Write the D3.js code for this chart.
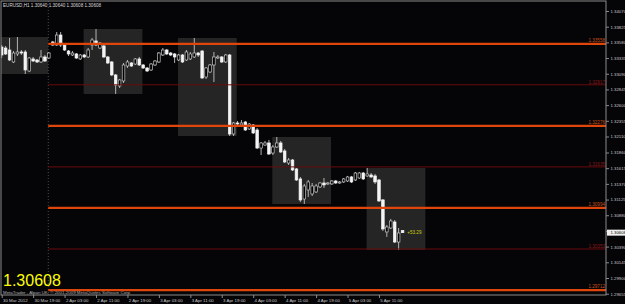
<!DOCTYPE html>
<html>
<head>
<meta charset="utf-8">
<script src="https://cdn.jsdelivr.net/npm/d3@7"></script>
<style>
  html, body { margin: 0; padding: 0; background: #050407; }
  svg { display: block; }
  text { font-family: "Liberation Sans", Arial, sans-serif; }
</style>
</head>
<body>
<svg id="chart"></svg>
<script>
// EURUSD H1, bar 0 = 30 Mar 2012 11:00
var headerText = 'EURUSD,H1  1.30640 1.30640 1.30608 1.30608';
var copyrightText = 'MetaTrader - Alpari UK, \u00a9 2001-2009 MetaQuotes Software Corp.';

var opens = [1.33508, 1.33492, 1.33461, 1.33274, 1.33399, 1.33430, 1.33430, 1.33133, 1.33321, 1.33305,
  1.33274, 1.33352, 1.33336, 1.33586, 1.33539, 1.33695, 1.33539, 1.33445, 1.33383, 1.33399,
  1.33321, 1.33383, 1.33352, 1.33539, 1.33602, 1.33492, 1.33524, 1.33352, 1.33274, 1.33071,
  1.32899, 1.32977, 1.33211, 1.33258, 1.33242, 1.33321, 1.33227, 1.33180, 1.33149, 1.33227,
  1.33274, 1.33383, 1.33461, 1.33414, 1.33399, 1.33305, 1.33383, 1.33305, 1.33321, 1.33352,
  1.33414, 1.33445, 1.33039, 1.33117, 1.33227, 1.33336, 1.33352, 1.33274, 1.33383, 1.32149,
  1.32321, 1.32290, 1.32336, 1.32227, 1.32290, 1.32212, 1.31930, 1.31977, 1.32009, 1.31852,
  1.31946, 1.32009, 1.31884, 1.31696, 1.31743, 1.31603, 1.31447, 1.31134, 1.31275, 1.31212,
  1.31244, 1.31322, 1.31384, 1.31369, 1.31369, 1.31415, 1.31384, 1.31400, 1.31415, 1.31478,
  1.31431, 1.31462, 1.31540, 1.31494, 1.31509, 1.31494, 1.31431, 1.31119, 1.30619, 1.30681,
  1.30775, 1.30462, 1.30640];
var highs = [1.33539, 1.33524, 1.33649, 1.33445, 1.33664, 1.33461, 1.33461, 1.33352, 1.33352, 1.33321,
  1.33461, 1.33383, 1.33430, 1.33602, 1.33742, 1.33742, 1.33555, 1.33461, 1.33445, 1.33414,
  1.33399, 1.33399, 1.33492, 1.33649, 1.33789, 1.33586, 1.33539, 1.33367, 1.33289, 1.33086,
  1.33008, 1.33258, 1.33305, 1.33274, 1.33336, 1.33352, 1.33242, 1.33196, 1.33258, 1.33305,
  1.33430, 1.33492, 1.33477, 1.33430, 1.33414, 1.33399, 1.33399, 1.33461, 1.33430, 1.33649,
  1.33430, 1.33461, 1.33196, 1.33242, 1.33430, 1.33383, 1.33367, 1.33399, 1.33399, 1.32336,
  1.32352, 1.32368, 1.32352, 1.32321, 1.32305, 1.32243, 1.32024, 1.32040, 1.32056, 1.31977,
  1.32102, 1.32040, 1.31915, 1.31774, 1.31759, 1.31618, 1.31478, 1.31369, 1.31431, 1.31384,
  1.31369, 1.31400, 1.31462, 1.31400, 1.31431, 1.31431, 1.31415, 1.31462, 1.31494, 1.31494,
  1.31556, 1.31556, 1.31556, 1.31618, 1.31540, 1.31525, 1.31447, 1.31134, 1.30728, 1.30822,
  1.30806, 1.30681, 1.30640];
var lows = [1.33336, 1.33383, 1.33289, 1.33258, 1.33367, 1.33383, 1.33086, 1.33117, 1.33274, 1.33258,
  1.33258, 1.33274, 1.33321, 1.33524, 1.33524, 1.33508, 1.33445, 1.33367, 1.33367, 1.33321,
  1.33305, 1.33336, 1.33336, 1.33461, 1.33524, 1.33477, 1.33336, 1.33242, 1.33055, 1.32774,
  1.32868, 1.32946, 1.33180, 1.33196, 1.33227, 1.33211, 1.33164, 1.33117, 1.33133, 1.33211,
  1.33258, 1.33367, 1.33383, 1.33367, 1.33258, 1.33289, 1.33258, 1.33289, 1.33305, 1.33336,
  1.33352, 1.33008, 1.33008, 1.33102, 1.32961, 1.33321, 1.33258, 1.33258, 1.32118, 1.32118,
  1.32274, 1.32258, 1.32196, 1.32212, 1.32149, 1.31915, 1.31821, 1.31962, 1.31821, 1.31821,
  1.31930, 1.31852, 1.31696, 1.31665, 1.31571, 1.31415, 1.31087, 1.31056, 1.31166, 1.31181,
  1.31228, 1.31306, 1.31306, 1.31353, 1.31353, 1.31369, 1.31369, 1.31384, 1.31400, 1.31384,
  1.31415, 1.31447, 1.31431, 1.31478, 1.31462, 1.31369, 1.31087, 1.30634, 1.30541, 1.30666,
  1.30447, 1.30338, 1.30608];
var closes = [1.33383, 1.33399, 1.33305, 1.33414, 1.33430, 1.33414, 1.33149, 1.33336, 1.33289, 1.33274,
  1.33352, 1.33289, 1.33414, 1.33539, 1.33695, 1.33539, 1.33461, 1.33399, 1.33414, 1.33336,
  1.33383, 1.33352, 1.33461, 1.33617, 1.33539, 1.33570, 1.33352, 1.33258, 1.33071, 1.32914,
  1.32993, 1.33227, 1.33274, 1.33211, 1.33321, 1.33227, 1.33180, 1.33133, 1.33242, 1.33289,
  1.33414, 1.33461, 1.33399, 1.33383, 1.33352, 1.33383, 1.33274, 1.33430, 1.33399, 1.33414,
  1.33383, 1.33024, 1.33180, 1.33227, 1.33352, 1.33352, 1.33274, 1.33383, 1.32149, 1.32321,
  1.32305, 1.32321, 1.32212, 1.32305, 1.32165, 1.31930, 1.32009, 1.32009, 1.31837, 1.31946,
  1.32009, 1.31868, 1.31712, 1.31743, 1.31587, 1.31431, 1.31119, 1.31337, 1.31400, 1.31337,
  1.31337, 1.31384, 1.31353, 1.31384, 1.31415, 1.31384, 1.31400, 1.31447, 1.31478, 1.31400,
  1.31540, 1.31540, 1.31447, 1.31525, 1.31478, 1.31400, 1.31103, 1.30666, 1.30697, 1.30790,
  1.30462, 1.30603, 1.30608];

var currentPrice = 1.30608;
var profitText = '+53.29';

var timeTicks = [0, 8, 16, 24, 32, 40, 48, 56, 64, 72, 80, 88, 96];
var timeLabels = ['30 Mar 2012', '30 Mar 19:00', '2 Apr 03:00', '2 Apr 11:00', '2 Apr 19:00',
  '3 Apr 03:00', '3 Apr 11:00', '3 Apr 19:00', '4 Apr 03:00', '4 Apr 11:00', '4 Apr 19:00',
  '5 Apr 03:00', '5 Apr 11:00'];

var priceTicks = [1.34070, 1.33825, 1.33580, 1.33335, 1.33090, 1.32845, 1.32600, 1.32355, 1.32110,
  1.31860, 1.31615, 1.31370, 1.31125, 1.30880, 1.30635, 1.30390, 1.30145, 1.29900, 1.29655];

// horizontal levels drawn from the Monday open
var strongLevels = [1.33558, 1.32276, 1.30994, 1.29712];
var weakLevels = [1.32917, 1.31635, 1.30353];

// session boxes, first/last bar index (08:00 - 22:00)
var sessions = [[-3, 11], [21, 35], [45, 59], [69, 83], [93, 107]];
var separatorBar = 11.85;

var width = 625, height = 304,
    plot = {left: 1, top: 1, right: 606, bottom: 295};

var svg = d3.select('#chart').attr('width', width).attr('height', height);

svg.append('rect').attr('width', width).attr('height', height).attr('fill', '#050407');

var xScale = d3.scaleLinear().domain([0, 102]).range([1.7, 1.7 + 102 * 3.93]);
var yScale = d3.scaleLinear().domain([1.29650, 1.34070]).range([294, 11]);

var candles = opens.map(function (o, i) {
  return {i: i, open: o, high: highs[i], low: lows[i], close: closes[i]};
});

svg.append('clipPath').attr('id', 'plotClip')
  .append('rect')
  .attr('x', plot.left).attr('y', plot.top)
  .attr('width', plot.right - plot.left).attr('height', plot.bottom - plot.top);

var g = svg.append('g').attr('clip-path', 'url(#plotClip)');

// session boxes from the bars' high / low
g.selectAll('rect.session')
  .data(sessions)
  .enter()
  .append('rect')
  .attr('class', 'session')
  .attr('x', (d) => xScale(d[0] - 0.15))
  .attr('width', (d) => xScale(d[1] + 0.8) - xScale(d[0] - 0.15))
  .attr('y', function (d) {
    var part = candles.filter((c) => c.i >= d[0] && c.i <= d[1]);
    return yScale(d3.max(part, (c) => c.high));
  })
  .attr('height', function (d) {
    var part = candles.filter((c) => c.i >= d[0] && c.i <= d[1]);
    return yScale(d3.min(part, (c) => c.low)) - yScale(d3.max(part, (c) => c.high));
  })
  .attr('fill', '#252525');

// period separator
g.append('line')
  .attr('x1', xScale(separatorBar)).attr('x2', xScale(separatorBar))
  .attr('y1', plot.top).attr('y2', plot.bottom)
  .attr('stroke', '#4a4a4a')
  .attr('stroke-dasharray', '1,2');

// candles
var candle = g.selectAll('g.candle')
  .data(candles)
  .enter()
  .append('g')
  .attr('class', 'candle');

candle.append('line')
  .attr('x1', (d) => xScale(d.i)).attr('x2', (d) => xScale(d.i))
  .attr('y1', (d) => yScale(d.high)).attr('y2', (d) => yScale(d.low))
  .attr('stroke', '#c4c4c4')
  .attr('stroke-width', 0.9);

candle.append('rect')
  .attr('x', (d) => xScale(d.i) - 1.3)
  .attr('width', 2.6)
  .attr('y', (d) => yScale(Math.max(d.open, d.close)))
  .attr('height', (d) => Math.max(0.8, Math.abs(yScale(d.open) - yScale(d.close))))
  .attr('fill', (d) => d.close >= d.open ? '#000' : '#f4f4f4')
  .attr('stroke', (d) => d.close >= d.open ? '#c4c4c4' : '#f4f4f4')
  .attr('stroke-width', 0.7);

// level lines
var x0 = xScale(separatorBar);

g.selectAll('line.weak')
  .data(weakLevels)
  .enter()
  .append('line')
  .attr('class', 'weak')
  .attr('x1', x0).attr('x2', plot.right)
  .attr('y1', (d) => yScale(d)).attr('y2', (d) => yScale(d))
  .attr('stroke', '#6a0c0c')
  .attr('stroke-width', 1);

g.selectAll('line.strong')
  .data(strongLevels)
  .enter()
  .append('line')
  .attr('class', 'strong')
  .attr('x1', x0).attr('x2', plot.right)
  .attr('y1', (d) => yScale(d)).attr('y2', (d) => yScale(d))
  .attr('stroke', '#de460c')
  .attr('stroke-width', 2.2);

g.selectAll('text.weak')
  .data(weakLevels)
  .enter()
  .append('text')
  .attr('x', plot.right - 1)
  .attr('y', (d) => yScale(d) - 1.2)
  .attr('text-anchor', 'end')
  .attr('font-size', 4.6)
  .attr('fill', '#8a1a1a')
  .text((d) => d.toFixed(5));

g.selectAll('text.strong')
  .data(strongLevels)
  .enter()
  .append('text')
  .attr('x', plot.right - 1)
  .attr('y', (d) => yScale(d) - 1.6)
  .attr('text-anchor', 'end')
  .attr('font-size', 4.6)
  .attr('fill', '#c8501c')
  .text((d) => d.toFixed(5));

// profit label next to the last bar
g.append('text')
  .attr('x', xScale(103.2))
  .attr('y', yScale(currentPrice))
  .attr('dy', '0.35em')
  .attr('font-size', 4.6)
  .attr('fill', '#cccc10')
  .text(profitText);

// plot frame
svg.append('rect')
  .attr('x', plot.left).attr('y', plot.top)
  .attr('width', plot.right - plot.left).attr('height', plot.bottom - plot.top)
  .attr('fill', 'none')
  .attr('stroke', '#8c8c8c')
  .attr('stroke-width', 1);

// price axis
var yAxis = d3.axisRight(yScale)
  .tickValues(priceTicks)
  .tickFormat(d3.format('.5f'))
  .tickSize(3)
  .tickPadding(1.5);

var yAxisG = svg.append('g')
  .attr('transform', 'translate(' + plot.right + ',0)')
  .call(yAxis);
yAxisG.select('.domain').remove();
yAxisG.selectAll('line').attr('stroke', '#8c8c8c');
yAxisG.selectAll('text').attr('fill', '#c8c8c8').attr('font-size', 4.3).attr('font-family', null);

// current price marker
svg.append('rect')
  .attr('x', plot.right + 1).attr('y', yScale(currentPrice) - 3)
  .attr('width', width - plot.right - 1).attr('height', 6)
  .attr('fill', '#f0f0f0');
svg.append('text')
  .attr('x', plot.right + 4.5).attr('y', yScale(currentPrice))
  .attr('dy', '0.35em')
  .attr('font-size', 4.3)
  .attr('fill', '#000')
  .text(d3.format('.5f')(currentPrice));

// time axis
var xAxis = d3.axisBottom(xScale)
  .tickValues(timeTicks)
  .tickFormat((d, i) => timeLabels[i])
  .tickSize(3)
  .tickPadding(1);

var xAxisG = svg.append('g')
  .attr('transform', 'translate(0,' + plot.bottom + ')')
  .call(xAxis);
xAxisG.select('.domain').remove();
xAxisG.selectAll('line').attr('stroke', '#8c8c8c');
xAxisG.selectAll('text')
  .attr('fill', '#c8c8c8')
  .attr('font-size', 4.4)
  .attr('font-family', null)
  .attr('text-anchor', 'start')
  .attr('dx', 0.8);

// header, copyright and big price
svg.append('text')
  .attr('x', 3).attr('y', 6.5)
  .attr('font-size', 4.6)
  .attr('fill', '#d8d8d8')
  .text(headerText);

svg.append('text')
  .attr('x', 3).attr('y', 294)
  .attr('font-size', 4.4)
  .attr('fill', '#b0b0b0')
  .text(copyrightText);

svg.append('text')
  .attr('x', 3).attr('y', 286.3)
  .attr('font-size', 16)
  .attr('fill', '#ffff00')
  .text(d3.format('.5f')(currentPrice));
</script>
</body>
</html>
